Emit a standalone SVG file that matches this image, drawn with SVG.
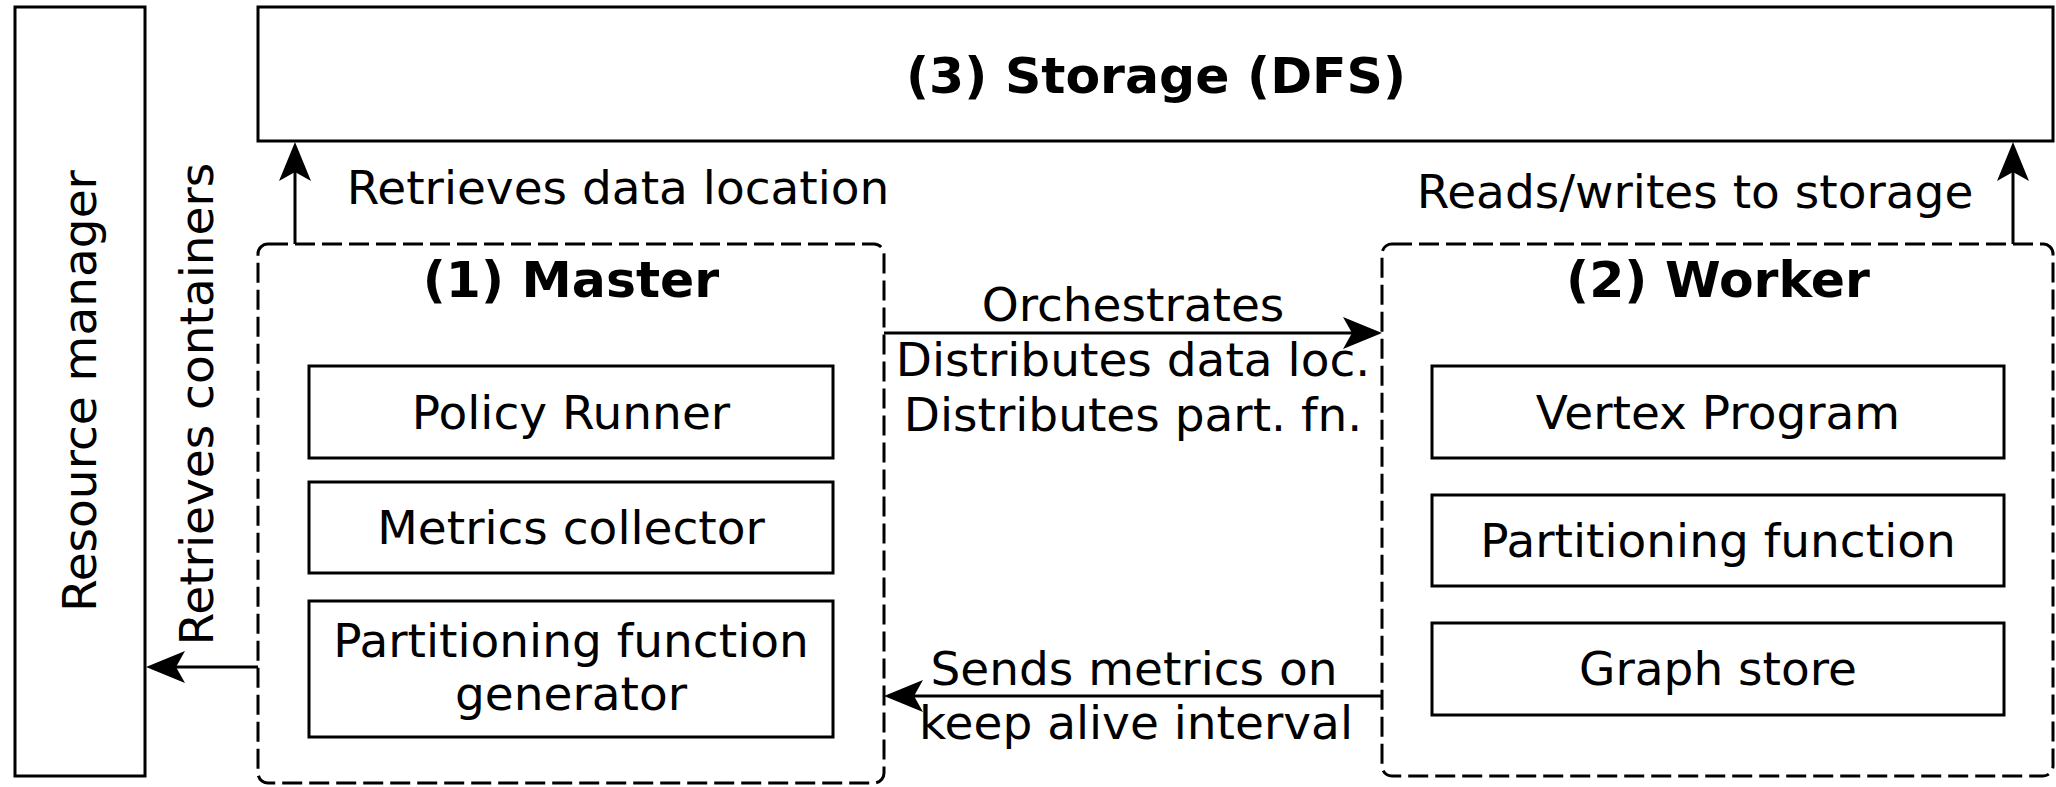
<svg xmlns="http://www.w3.org/2000/svg" width="2056" height="787" viewBox="0 0 2056 787">
<style>
.box{fill:#fff;stroke:#000;stroke-width:3}
.dash{fill:none;stroke:#000;stroke-width:3;stroke-dasharray:20 7}
.t{font-family:"DejaVu Sans",Verdana,sans-serif;font-size:47px;fill:#000;text-anchor:middle}
.b{font-family:"DejaVu Sans",Verdana,sans-serif;font-size:50.5px;font-weight:bold;fill:#000;text-anchor:middle}
.c{fill:none;stroke:#000;stroke-width:3}
</style>
<defs>
<marker id="arr" markerUnits="userSpaceOnUse" viewBox="0 -17 40 34" markerWidth="40" markerHeight="34" refX="9" refY="0" orient="auto">
<path d="M39,0 L0,-16 L9,0 L0,16 Z" fill="#000"/>
</marker>
</defs>
<rect width="2056" height="787" fill="#fff"/>
<g id="resource-manager">
<rect class="box" x="15" y="7" width="130" height="769"/>
<text class="t" transform="translate(96,391) rotate(-90)">Resource manager</text>
</g>
<g id="storage">
<rect class="box" x="258" y="7" width="1795" height="134"/>
<text class="b" x="1156" y="93">(3) Storage (DFS)</text>
</g>
<g id="master">
<rect class="dash" x="258" y="244" width="626" height="539" rx="10"/>
<text class="b" x="571" y="297">(1) Master</text>
</g>
<g id="policy-runner">
<rect class="box" x="309" y="366" width="524" height="92"/>
<text class="t" x="571" y="429">Policy Runner</text>
</g>
<g id="metrics-collector">
<rect class="box" x="309" y="482" width="524" height="91"/>
<text class="t" x="571" y="544">Metrics collector</text>
</g>
<g id="partitioning-function-generator">
<rect class="box" x="309" y="601" width="524" height="136"/>
<text class="t" x="571" y="657">Partitioning function</text>
<text class="t" x="571" y="710">generator</text>
</g>
<g id="worker">
<rect class="dash" x="1382" y="244" width="671" height="532" rx="10"/>
<text class="b" x="1718" y="297">(2) Worker</text>
</g>
<g id="vertex-program">
<rect class="box" x="1432" y="366" width="572" height="92"/>
<text class="t" x="1718" y="429">Vertex Program</text>
</g>
<g id="partitioning-function">
<rect class="box" x="1432" y="495" width="572" height="91"/>
<text class="t" x="1718" y="557">Partitioning function</text>
</g>
<g id="graph-store">
<rect class="box" x="1432" y="623" width="572" height="92"/>
<text class="t" x="1718" y="685">Graph store</text>
</g>
<g id="connectors">
<line class="c" x1="295" y1="244" x2="295" y2="172" marker-end="url(#arr)"/>
<line class="c" x1="2013" y1="244" x2="2013" y2="172" marker-end="url(#arr)"/>
<line class="c" x1="258" y1="667" x2="176" y2="667" marker-end="url(#arr)"/>
<line class="c" x1="884" y1="333" x2="1352" y2="333" marker-end="url(#arr)"/>
<line class="c" x1="1382" y1="696" x2="914" y2="696" marker-end="url(#arr)"/>
<text class="t" x="618" y="204">Retrieves data location</text>
<text class="t" x="1695" y="208">Reads/writes to storage</text>
<text class="t" transform="translate(213,404) rotate(-90)">Retrieves containers</text>
<text class="t" x="1133" y="321">Orchestrates</text>
<text class="t" x="1133" y="376">Distributes data loc.</text>
<text class="t" x="1133" y="431">Distributes part. fn.</text>
<text class="t" x="1134" y="685">Sends metrics on</text>
<text class="t" x="1136" y="739">keep alive interval</text>
</g>
</svg>
